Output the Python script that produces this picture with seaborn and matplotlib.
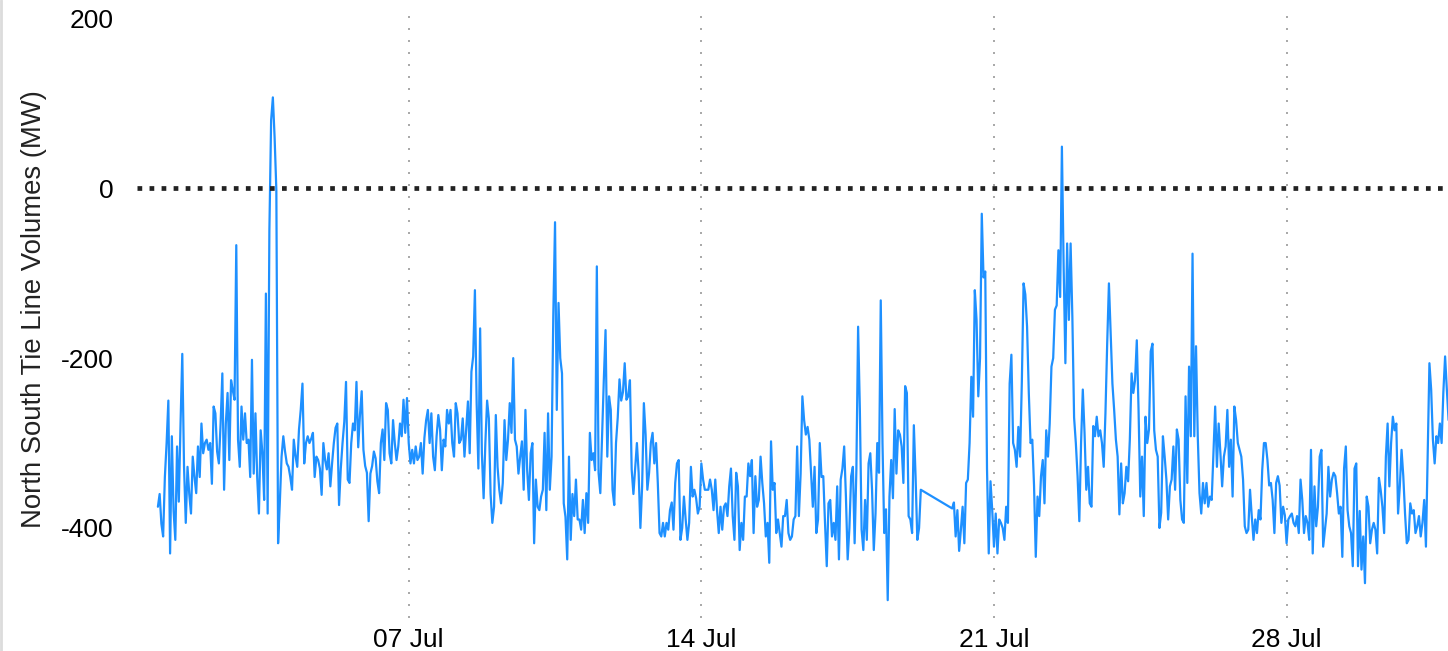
import numpy as np
import pandas as pd
import matplotlib
matplotlib.use("Agg")
import matplotlib.pyplot as plt
from matplotlib.lines import Line2D
import seaborn as sns

nan = np.nan
# Hourly North-South tie line volumes (MW), starting 2024-07-01 00:00 (one day per row)
week1 = [
    -375, -360, -395, -410, -340, -300, -250, -430, -292, -380, -414, -304, -369, -277, -195, -328, -394, -328, -360, -383, -316, -340, -359, -304,
    -340, -277, -312, -300, -296, -308, -300, -348, -257, -265, -310, -324, -277, -218, -355, -277, -241, -320, -226, -238, -249, -67, -296, -328,
    -257, -296, -265, -300, -296, -340, -202, -336, -265, -340, -383, -285, -312, -367, -124, -383, -50, 80, 107, 60, -2, -418, -370, -316,
    -292, -310, -324, -328, -340, -355, -296, -315, -328, -284, -261, -230, -324, -300, -292, -300, -295, -288, -340, -316, -320, -330, -361, -300,
    -320, -331, -312, -351, -324, -300, -282, -277, -373, -330, -300, -275, -228, -343, -347, -300, -277, -285, -228, -305, -267, -239, -308, -327,
    -335, -392, -336, -327, -310, -318, -345, -359, -300, -284, -320, -253, -261, -312, -324, -273, -300, -320, -304, -277, -292, -249, -288, -247,
    -300, -324, -308, -324, -304, -320, -316, -300, -336, -294, -273, -261, -300, -265, -316, -332, -292, -267, -284, -332, -296, -304, -261, -277,
]
week2 = [
    -261, -300, -316, -253, -265, -300, -296, -271, -316, -284, -251, -312, -216, -198, -120, -253, -330, -165, -312, -365, -300, -250, -271, -360,
    -394, -375, -267, -328, -355, -371, -347, -273, -320, -296, -253, -288, -200, -296, -304, -336, -316, -298, -355, -261, -332, -367, -312, -300,
    -418, -343, -375, -379, -363, -355, -288, -379, -265, -355, -316, -150, -40, -261, -135, -200, -218, -371, -387, -437, -316, -414, -360, -386,
    -343, -390, -390, -402, -367, -406, -359, -394, -288, -320, -312, -332, -92, -335, -359, -292, -226, -167, -316, -245, -261, -355, -373, -300,
    -270, -225, -250, -240, -206, -249, -245, -226, -331, -360, -330, -300, -335, -400, -351, -253, -290, -355, -335, -300, -288, -324, -300, -347,
    -406, -410, -394, -410, -394, -402, -379, -370, -402, -347, -324, -320, -414, -400, -363, -390, -414, -394, -328, -363, -355, -365, -383, -375,
    -324, -343, -355, -355, -355, -343, -355, -379, -343, -379, -406, -375, -402, -375, -371, -386, -351, -330, -386, -414, -335, -351, -426, -394,
]
week3 = [
    -414, -363, -363, -324, -339, -320, -406, -339, -375, -367, -316, -347, -371, -410, -394, -441, -298, -355, -347, -406, -390, -406, -422, -386,
    -386, -367, -406, -414, -410, -390, -386, -304, -386, -336, -245, -273, -290, -281, -296, -336, -375, -328, -406, -390, -300, -340, -339, -394,
    -445, -371, -367, -410, -394, -414, -351, -437, -343, -330, -304, -363, -437, -400, -339, -328, -418, -332, -163, -260, -402, -426, -367, -414,
    -324, -312, -355, -426, -383, -300, -335, -132, -300, -406, -378, -485, -363, -320, -365, -260, -336, -285, -290, -304, -347, -233, -241, -386,
    -390, -406, -279, -340, -414, -400, -355, nan, nan, nan, nan, nan, nan, nan, nan, nan, nan, nan, nan, nan, nan, nan, nan, nan,
    -377, -370, -410, -379, -427, -402, -375, -418, -347, -343, -300, -222, -269, -120, -155, -245, -200, -30, -105, -98, -330, -430, -345, -379,
    -422, -383, -430, -390, -394, -400, -414, -375, -394, -230, -196, -300, -308, -328, -281, -316, -228, -112, -125, -163, -241, -300, -296, -350,
]
week4 = [
    -434, -363, -386, -339, -320, -371, -285, -316, -277, -210, -200, -143, -138, -73, -128, 49, -92, -206, -65, -155, -65, -151, -270, -300,
    -339, -392, -300, -237, -288, -355, -328, -371, -375, -280, -292, -269, -292, -285, -300, -328, -265, -183, -112, -170, -230, -261, -296, -316,
    -384, -324, -371, -359, -328, -345, -296, -218, -241, -226, -179, -260, -363, -316, -386, -269, -300, -284, -192, -183, -285, -308, -316, -400,
    -382, -292, -316, -343, -390, -351, -343, -304, -355, -284, -296, -367, -390, -394, -245, -347, -210, -292, -77, -292, -186, -292, -359, -383,
    -347, -371, -347, -375, -363, -367, -312, -257, -328, -277, -312, -351, -316, -304, -261, -328, -296, -363, -257, -273, -300, -308, -316, -343,
    -398, -406, -402, -355, -386, -414, -390, -406, -379, -390, -332, -300, -300, -320, -350, -347, -367, -406, -347, -339, -350, -394, -375, -385,
    -418, -390, -386, -383, -394, -398, -386, -406, -343, -367, -406, -386, -394, -414, -308, -430, -351, -398, -375, -316, -308, -422, -402, -383,
]
week5 = [
    -328, -363, -343, -335, -339, -359, -383, -375, -434, -330, -304, -379, -398, -406, -445, -330, -324, -445, -380, -449, -410, -465, -363, -375,
    -418, -402, -394, -402, -430, -341, -355, -375, -406, -316, -277, -351, -300, -269, -285, -277, -383, -351, -308, -339, -383, -418, -414, -371,
    -383, -379, -406, -398, -386, -410, -394, -367, -422, -312, -206, -237, -296, -324, -292, -300, -277, -300, -240, -198, -237, -273,
]

tick_dates = ["2024-07-07", "2024-07-14", "2024-07-21", "2024-07-28"]
tick_labels = ["07 Jul", "14 Jul", "21 Jul", "28 Jul"]
y_ticks = [200, 0, -200, -400]

values = week1 + week2 + week3 + week4 + week5
times = pd.date_range("2024-07-01 00:00", periods=len(values), freq="h")
df = pd.DataFrame({"time": times, "mw": values}).dropna()

sns.set_theme(style="white")
plt.rcParams["font.family"] = ["Liberation Sans", "DejaVu Sans"]

fig = plt.figure(figsize=(14.48, 6.51), dpi=100)
ax = fig.add_axes([137 / 1448, 33 / 651, 1 - 137 / 1448, 603 / 651])

for d in tick_dates:
    ax.axvline(pd.Timestamp(d), color="#9a9a9a", lw=1.2,
               linestyle=(0, (1.2, 6.0)), zorder=0)

sns.lineplot(data=df, x="time", y="mw", ax=ax, color="#1E90FF",
             lw=1.6, estimator=None, zorder=2)

ax.axhline(0, color="#222222", lw=3.4, linestyle=(0, (1.0, 1.55)), zorder=3)

ax.set_xlim(pd.Timestamp("2024-06-30 12:00"), pd.Timestamp("2024-07-31 20:40"))
ax.set_ylim(-506, 204)
ax.set_yticks(y_ticks)
ax.set_yticklabels([str(v) for v in y_ticks])
ax.set_xticks(pd.to_datetime(tick_dates))
ax.set_xticklabels(tick_labels)

ax.tick_params(axis="y", length=0, pad=17, labelsize=19, colors="black")
ax.tick_params(axis="x", length=0, pad=7, labelsize=19, colors="black")
ax.set_xlabel("")
ax.set_ylabel("North South Tie Line Volumes (MW)", fontsize=19.8,
              color="#222222", labelpad=10)
ax.yaxis.label.set_y(0.512)
ax.grid(False)
for s in ax.spines.values():
    s.set_visible(False)

fig.add_artist(Line2D([0.0008, 0.0008], [0, 1], transform=fig.transFigure,
                      color="#dcdcdc", lw=2))

fig.savefig("out.png", dpi=100)
